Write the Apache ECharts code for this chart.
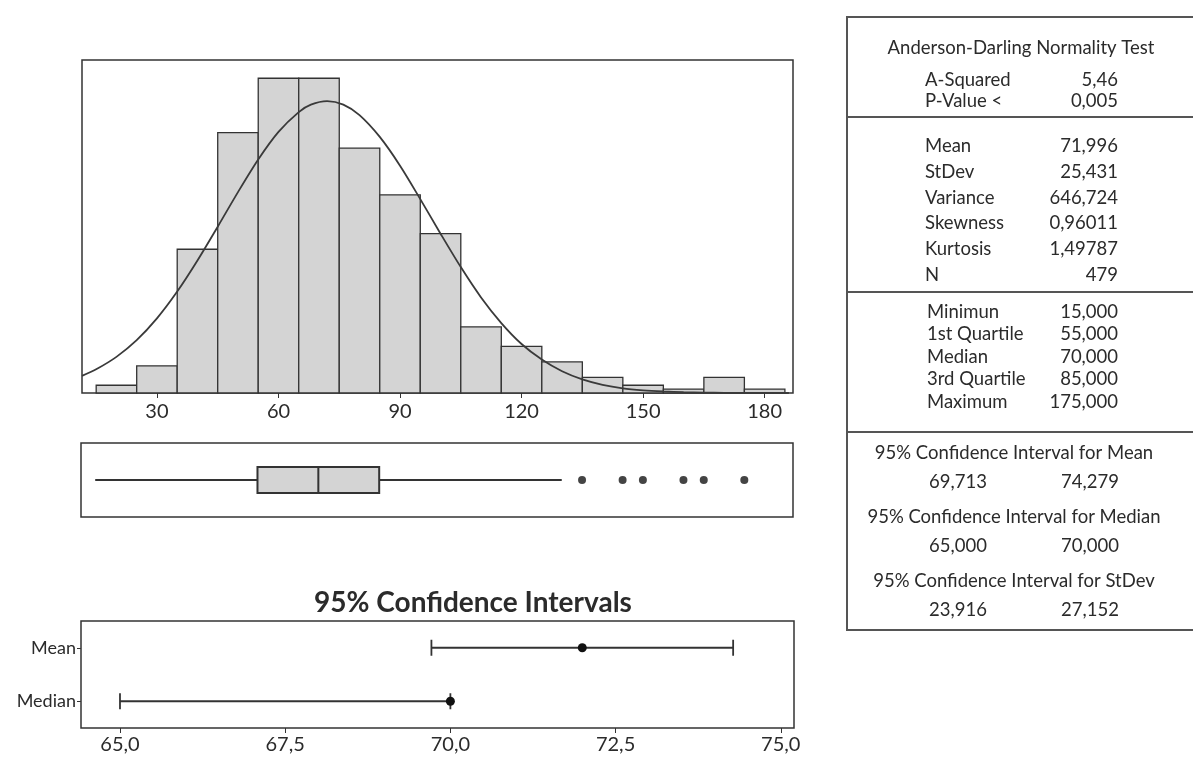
<!DOCTYPE html>
<html>
<head>
<meta charset="utf-8">
<script src="https://cdn.jsdelivr.net/npm/echarts@6/dist/echarts.min.js"></script>
<style>
    html, body { margin: 0; padding: 0; background: #fff; }
    #main { width: 1193px; height: 757px; }
</style>
</head>
<body>
<div id="main"></div>
<script>
// 数据: 直方图 (组中值 / 频数)
var binCenters = [20, 30, 40, 50, 60, 70, 80, 90, 100, 110, 120, 130, 140, 150, 160, 170, 180];
var binCounts = [2, 7, 37, 67, 81, 81, 63, 51, 41, 17, 12, 8, 4, 2, 1, 4, 1];
var binWidth = 10;

// 正态拟合曲线
var curveX = [11.5, 15, 20, 25, 30, 35, 40, 45, 50, 55, 60, 65, 68, 72, 76, 80, 85, 90, 95, 100, 105, 110, 115, 120, 125, 130, 135, 140, 145, 150, 155, 160, 165, 170, 175, 180, 186];
var curveY = [4.4, 6.1, 9.3, 13.6, 19.2, 26.1, 34.1, 42.8, 51.7, 60.1, 67.2, 72.3, 74.2, 75.1, 74.2, 71.5, 65.9, 58.5, 49.9, 41.0, 32.4, 24.6, 18.0, 12.6, 8.6, 5.6, 3.5, 2.1, 1.2, 0.7, 0.4, 0.2, 0.1, 0.05, 0.02, 0.01, 0.0];

// 箱线图: min, Q1, median, Q3, 上须
var boxStats = [15, 55, 70, 85, 130];
var outliers = [135, 145, 150, 160, 165, 175];
var histTicks = [30, 60, 90, 120, 150, 180];

// 95% 置信区间
var ciRows = ['Mean', 'Median'];
var ciLow = [69.713, 65.0];
var ciEst = [71.996, 70.0];
var ciHigh = [74.279, 70.0];
var ciTicks = [65, 67.5, 70, 72.5, 75];

// 右侧统计表
var adTest = [['A-Squared', '5,46'], ['P-Value <', '0,005']];
var moments = [['Mean', '71,996'], ['StDev', '25,431'], ['Variance', '646,724'], ['Skewness', '0,96011'], ['Kurtosis', '1,49787'], ['N', '479']];
var quantiles = [['Minimun', '15,000'], ['1st Quartile', '55,000'], ['Median', '70,000'], ['3rd Quartile', '85,000'], ['Maximum', '175,000']];
var ciTable = [
    ['95% Confidence Interval for Mean', '69,713', '74,279'],
    ['95% Confidence Interval for Median', '65,000', '70,000'],
    ['95% Confidence Interval for StDev', '23,916', '27,152']
];

var FONT = 'Lato, "Noto Sans", sans-serif';
var INK = '#2b2b2b';
var FILL = '#d4d4d4';

var chart = echarts.init(document.getElementById('main'));

// 表格 graphic 元素
var g = [];
function txt(s, x, y, align, size, weight) {
    g.push({
        type: 'text', x: x, y: y,
        style: { text: s, fill: INK, font: (weight || 'normal') + ' ' + (size || 18.5) + 'px ' + FONT, textAlign: align || 'left', textVerticalAlign: 'middle' }
    });
}
function hline(y) {
    g.push({ type: 'line', shape: { x1: 847, y1: y, x2: 1193, y2: y }, style: { stroke: '#555', lineWidth: 2 } });
}
g.push({ type: 'rect', shape: { x: 847, y: 17, width: 360, height: 613 }, style: { fill: 'none', stroke: '#555', lineWidth: 2 } });
hline(117);
hline(292);
hline(432);

txt('Anderson-Darling Normality Test', 1021, 48, 'center');
adTest.forEach(function (r, i) {
    txt(r[0], 925, 80 + i * 21.5, 'left');
    txt(r[1], 1118, 80 + i * 21.5, 'right');
});
moments.forEach(function (r, i) {
    txt(r[0], 925, 146 + i * 25.8, 'left');
    txt(r[1], 1118, 146 + i * 25.8, 'right');
});
quantiles.forEach(function (r, i) {
    txt(r[0], 927, 312 + i * 22.5, 'left');
    txt(r[1], 1118, 312 + i * 22.5, 'right');
});
ciTable.forEach(function (r, i) {
    txt(r[0], 1014, 453 + i * 64, 'center');
    txt(r[1], 958, 482 + i * 64, 'center');
    txt(r[2], 1090, 482 + i * 64, 'center');
});

var option = {
    animation: false,
    backgroundColor: '#fff',
    title: {
        text: '95% Confidence Intervals',
        left: 468, top: 584,
        textAlign: 'center',
        textStyle: { fontFamily: FONT, fontSize: 28, fontWeight: 'bold', color: INK }
    },
    grid: [
        { left: 82, top: 60, width: 711, height: 333, show: true, borderColor: '#333', borderWidth: 1.5, backgroundColor: '#fff' },
        { left: 81, top: 443, width: 712, height: 74, show: true, borderColor: '#333', borderWidth: 1.5, backgroundColor: '#fff' },
        { left: 81, top: 621, width: 713, height: 107, show: true, borderColor: '#333', borderWidth: 1.5, backgroundColor: '#fff' }
    ],
    xAxis: [
        {
            type: 'value', gridIndex: 0, min: 11.5, max: 187,
            splitLine: { show: false },
            axisLine: { show: false },
            axisTick: { show: true, length: 5, lineStyle: { color: '#333' }, customValues: histTicks },
            axisLabel: { margin: 9, fontFamily: FONT, fontSize: 20, color: INK, customValues: histTicks }
        },
        {
            type: 'value', gridIndex: 1, min: 11.5, max: 187,
            show: false, splitLine: { show: false }
        },
        {
            type: 'value', gridIndex: 2, min: 64.41, max: 75.2,
            splitLine: { show: false },
            axisLine: { show: false },
            axisTick: { show: true, length: 5, lineStyle: { color: '#333' }, customValues: ciTicks },
            axisLabel: {
                margin: 7, fontFamily: FONT, fontSize: 20, color: INK, customValues: ciTicks,
                formatter: function (v) { return v.toFixed(1).replace('.', ','); }
            }
        }
    ],
    yAxis: [
        { type: 'value', gridIndex: 0, min: 0, max: 85.7, show: false },
        { type: 'value', gridIndex: 1, min: 0, max: 1, show: false },
        {
            type: 'category', gridIndex: 2, data: ciRows, inverse: true,
            axisLine: { show: false },
            axisTick: { show: true, length: 4, alignWithLabel: true, lineStyle: { color: '#333' } },
            axisLabel: { margin: 5, fontFamily: FONT, fontSize: 18, color: INK }
        }
    ],
    series: [
        {
            // 直方图
            type: 'custom', xAxisIndex: 0, yAxisIndex: 0,
            data: binCenters.map(function (c, i) { return [c, binCounts[i]]; }),
            encode: { x: 0, y: 1 },
            renderItem: function (params, api) {
                var c = api.value(0), n = api.value(1);
                var p0 = api.coord([c - binWidth / 2, n]);
                var p1 = api.coord([c + binWidth / 2, 0]);
                return {
                    type: 'rect',
                    shape: { x: p0[0], y: p0[1], width: p1[0] - p0[0], height: p1[1] - p0[1] },
                    style: { fill: FILL, stroke: '#333', lineWidth: 1.3 }
                };
            }
        },
        {
            // 正态曲线
            type: 'line', xAxisIndex: 0, yAxisIndex: 0,
            data: curveX.map(function (x, i) { return [x, curveY[i]]; }),
            smooth: 0.3, showSymbol: false, z: 5,
            lineStyle: { color: '#3a3a3a', width: 1.8 }
        },
        {
            // 箱线图
            type: 'custom', xAxisIndex: 1, yAxisIndex: 1,
            data: [boxStats],
            encode: { x: [0, 1, 2, 3, 4] },
            renderItem: function (params, api) {
                var mid = 0.5, h = 0.176;
                var pMin = api.coord([api.value(0), mid]);
                var pQ1 = api.coord([api.value(1), mid + h]);
                var pMed = api.coord([api.value(2), mid]);
                var pQ3 = api.coord([api.value(3), mid - h]);
                var pMax = api.coord([api.value(4), mid]);
                var lineStyle = { stroke: '#333', lineWidth: 2 };
                return {
                    type: 'group',
                    children: [
                        { type: 'line', shape: { x1: pMin[0], y1: pMin[1], x2: pQ1[0], y2: pMin[1] }, style: lineStyle },
                        { type: 'line', shape: { x1: pQ3[0], y1: pMax[1], x2: pMax[0], y2: pMax[1] }, style: lineStyle },
                        { type: 'rect', shape: { x: pQ1[0], y: pQ1[1], width: pQ3[0] - pQ1[0], height: pQ3[1] - pQ1[1] }, style: { fill: FILL, stroke: '#333', lineWidth: 2 } },
                        { type: 'line', shape: { x1: pMed[0], y1: pQ1[1], x2: pMed[0], y2: pQ3[1] }, style: lineStyle }
                    ]
                };
            }
        },
        {
            // 离群点
            type: 'scatter', xAxisIndex: 1, yAxisIndex: 1,
            data: outliers.map(function (v) { return [v, 0.5]; }),
            symbol: 'circle', symbolSize: 8,
            itemStyle: { color: '#151515' }
        },
        {
            // 置信区间
            type: 'custom', xAxisIndex: 2, yAxisIndex: 2,
            data: ciRows.map(function (r, i) { return [ciLow[i], ciEst[i], ciHigh[i], i]; }),
            encode: { x: [0, 1, 2], y: 3 },
            renderItem: function (params, api) {
                var row = api.value(3);
                var lo = api.coord([api.value(0), row]);
                var est = api.coord([api.value(1), row]);
                var hi = api.coord([api.value(2), row]);
                var cap = 8;
                var ls = { stroke: '#333', lineWidth: 1.8 };
                return {
                    type: 'group',
                    children: [
                        { type: 'line', shape: { x1: lo[0], y1: lo[1], x2: hi[0], y2: hi[1] }, style: ls },
                        { type: 'line', shape: { x1: lo[0], y1: lo[1] - cap, x2: lo[0], y2: lo[1] + cap }, style: ls },
                        { type: 'line', shape: { x1: hi[0], y1: hi[1] - cap, x2: hi[0], y2: hi[1] + cap }, style: ls },
                        { type: 'circle', shape: { cx: est[0], cy: est[1], r: 4.5 }, style: { fill: '#111' } }
                    ]
                };
            }
        }
    ],
    graphic: g
};

chart.setOption(option);

window.addEventListener('resize', function () {
    chart.resize();
});
</script>
</body>
</html>
